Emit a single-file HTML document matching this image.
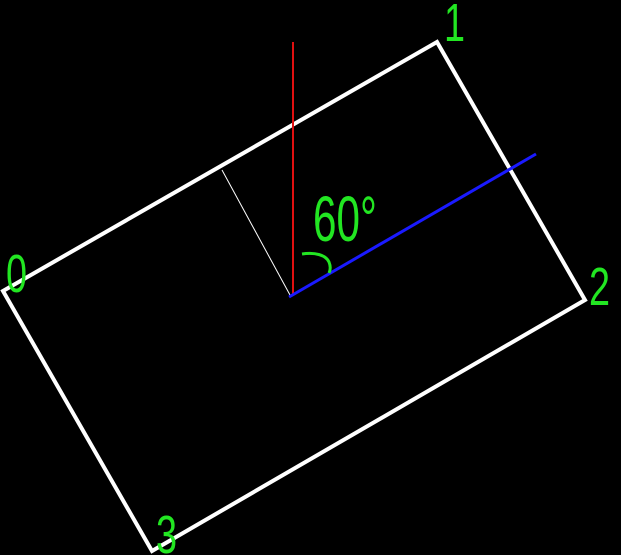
<!DOCTYPE html>
<html><head><meta charset="utf-8"><style>
html,body{margin:0;padding:0;background:#000;width:621px;height:555px;overflow:hidden}
svg text{font-family:"Liberation Sans",sans-serif;fill:#22e622;stroke:none}
</style></head><body>
<svg id="c" width="621" height="555" viewBox="0 0 621 555">
<rect width="621" height="555" fill="#000"/>
</svg>
<script>
const cornerNames=["0","1","2","3"];
const cornerX=[3,437,585,152];
const cornerY=[291,42,300,551];
const angleLabel="60°";
const ns="http://www.w3.org/2000/svg";
const svg=document.getElementById('c');
function mk(tag,attrs){const e=document.createElementNS(ns,tag);for(const k in attrs)e.setAttribute(k,attrs[k]);svg.appendChild(e);return e;}
const pts=cornerX.map((x,i)=>x+","+cornerY[i]).join(" ");
const poly=mk('polygon',{points:pts,fill:'none',stroke:'#fff','stroke-width':4});


const red=mk('line',{x1:293,y1:42,x2:293,y2:295,stroke:'#e01010','stroke-width':2});


const wl=mk('line',{x1:222,y1:170,x2:290,y2:295,stroke:'#fff','stroke-width':1});


const blue=mk('line',{x1:289,y1:297,x2:536,y2:154,stroke:'#1a1aff','stroke-width':3});


const arc=mk('path',{d:'M302,254 C315,252 326,255 329,262 C331,267 330,271 329,273',fill:'none',stroke:'#22e622','stroke-width':3});


const lx=[6,444,589,156], ly=[292,41,305,553];
cornerNames.forEach((n,i)=>{
  const t=mk('text',{x:0,y:0,'font-size':54,transform:`translate(${lx[i]},${ly[i]}) scale(0.7,1)`});
  t.textContent=n;
  
  
});
const at=mk('text',{x:0,y:0,'font-size':64,transform:'translate(313,241) scale(0.66,1)'});
at.textContent=angleLabel;


</script>
</body></html>
